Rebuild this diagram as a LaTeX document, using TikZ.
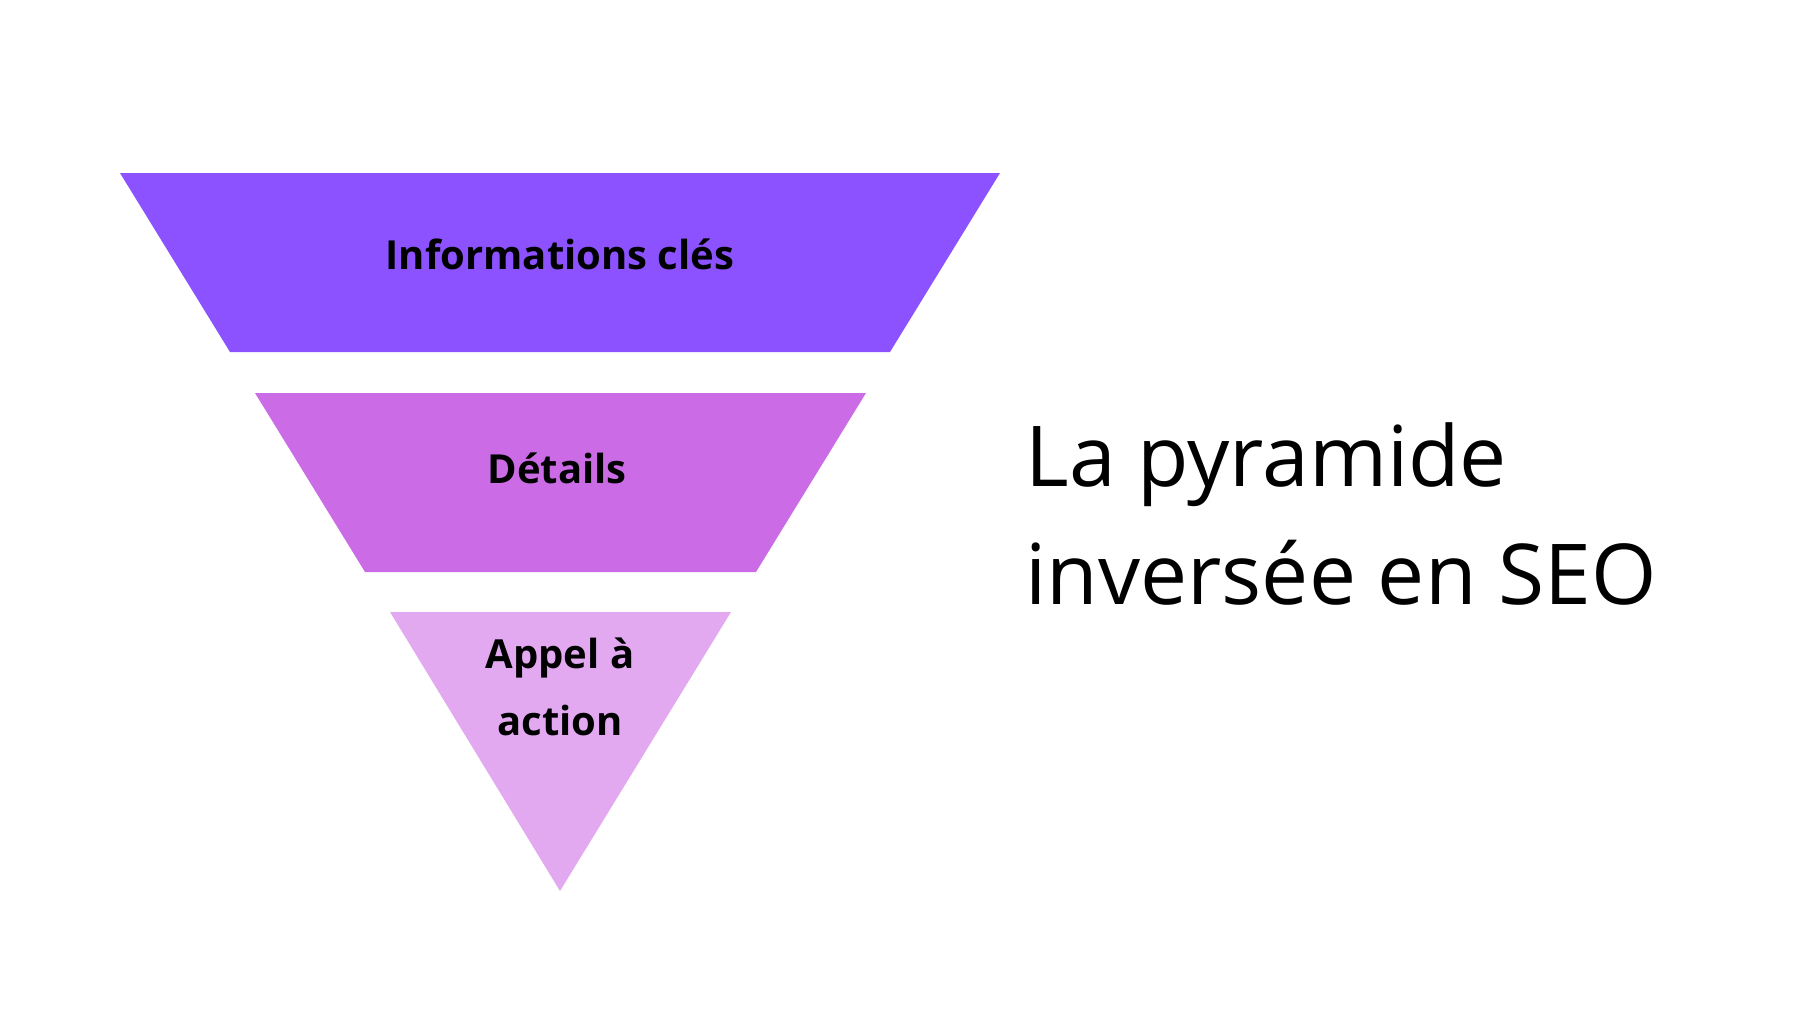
\documentclass[tikz,border=0pt]{standalone}
\usepackage{fontspec}
\setmainfont{Open Sans}
\newfontfamily\titlefont{Open Sans}
\definecolor{c1}{HTML}{8C52FF}
\definecolor{c2}{HTML}{CB6CE6}
\definecolor{c3}{HTML}{E2A9F1}
\begin{document}
\begin{tikzpicture}[x=1pt,y=-1pt,lab/.style={font=\fontsize{40}{67}\selectfont\bfseries,align=center,text=black}]
\useasboundingbox (0,0) rectangle (1810,1020);
\fill[c1] (120,173) coordinate (a1) -- (1000,173) -- (890,352) -- (230,352) -- cycle;
\fill[c2] (255,393) -- (866,393) -- (756,572) -- (365,572) -- cycle;
\fill[c3] (390,612) -- (731,612) -- (560,891) -- cycle;
\node[lab] (t1) at (560,254) {Informations clés};
\node[lab] (t2) at (557,468) {Détails};
\node[lab] (t3) at (560,687) {Appel à\\action};
\node[anchor=west,align=left,font=\titlefont\fontsize{84}{118}\selectfont] (title) at (1022,514) {La pyramide\\inversée en SEO};
\end{tikzpicture}
\end{document}
